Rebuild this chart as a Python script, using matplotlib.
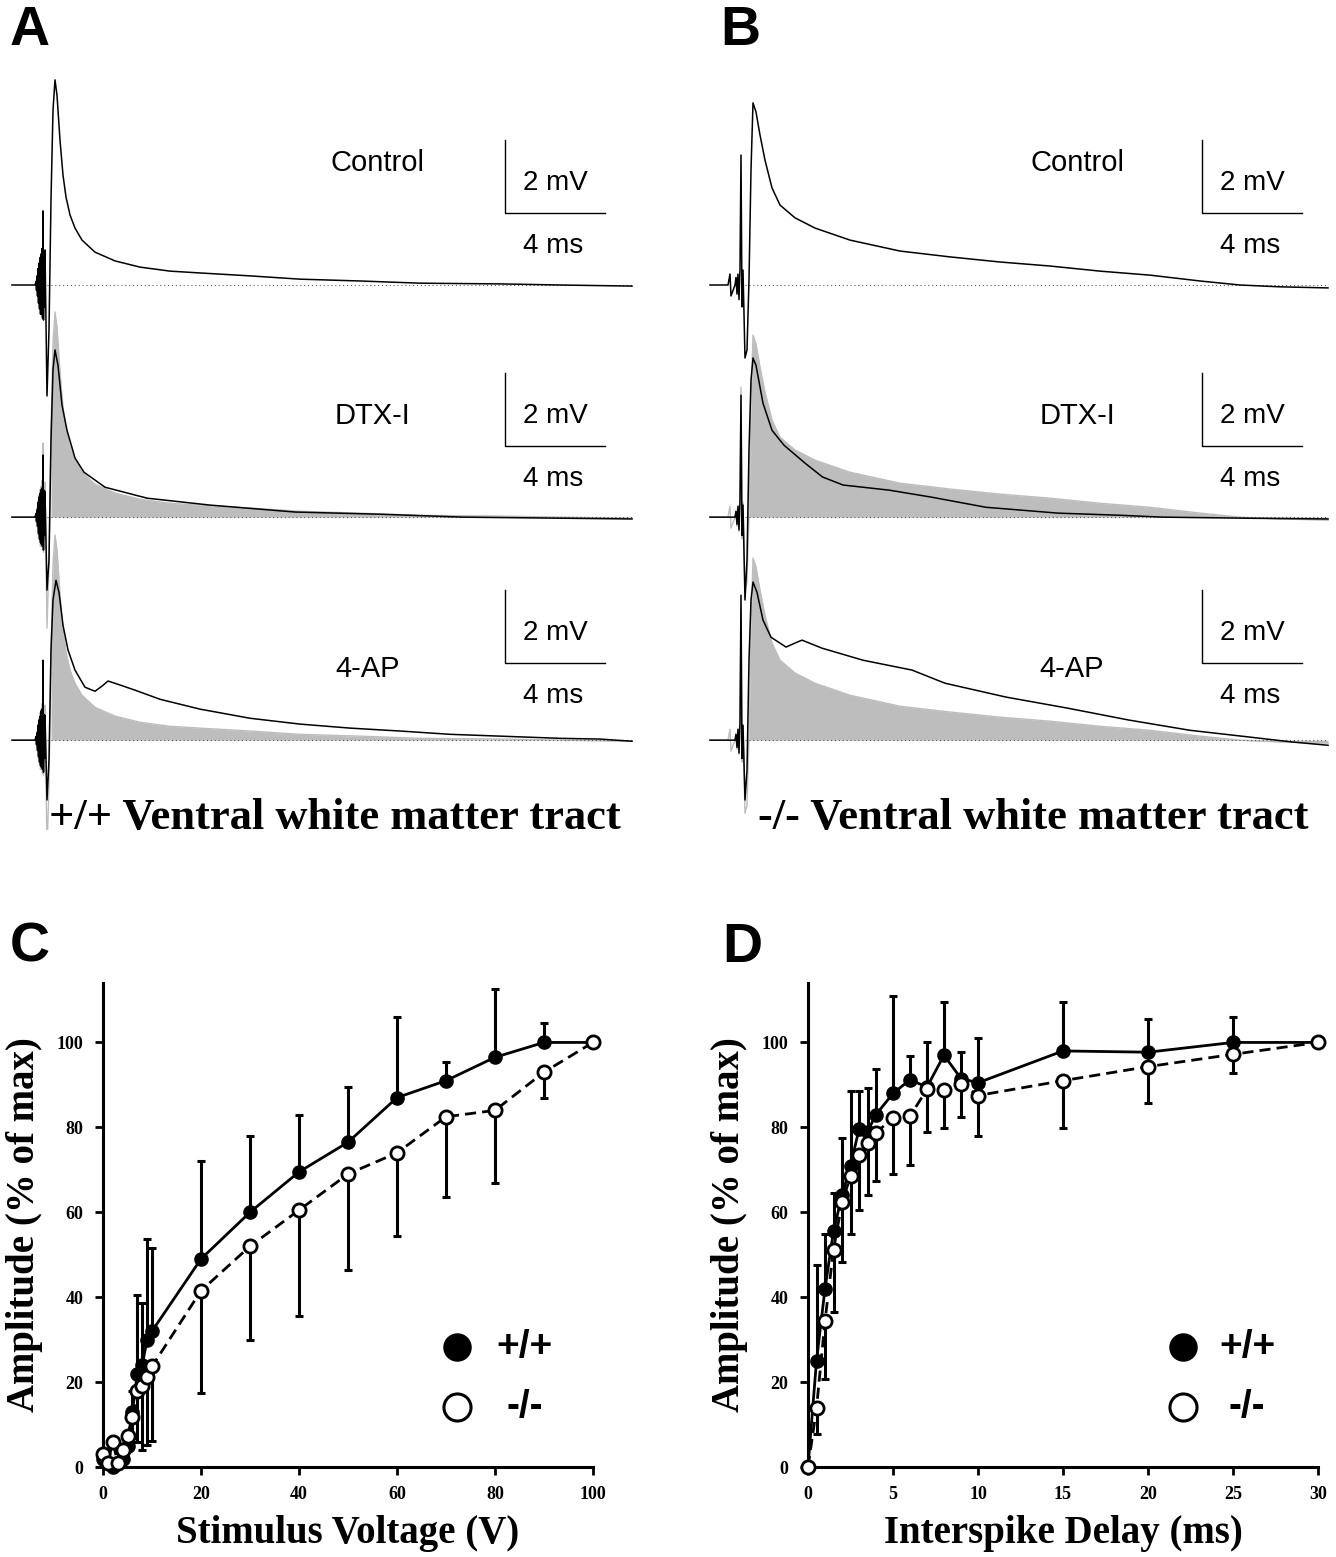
import matplotlib
matplotlib.use('Agg')
import matplotlib.pyplot as plt
import numpy as np

plt.rcParams['font.family'] = ['Liberation Sans', 'DejaVu Sans']
SERIF = 'Liberation Serif'
SANS = 'Liberation Sans'

# ---------------- data: field potentials (time in ms, voltage in mV) ----------------
a_ctrl_t = [0, 0.92, 0.96, 0.98, 1.0, 1.02, 1.04, 1.06, 1.08, 1.1, 1.12, 1.14, 1.16, 1.18, 1.2,
            1.22, 1.24, 1.26, 1.28, 1.3, 1.32, 1.4, 1.48, 1.56, 1.64,
            1.72, 1.8, 1.92, 2.04, 2.16, 2.32, 2.52, 2.8, 3.32, 4.12, 5.12, 6.32, 7.52, 9.52,
            11.52, 13.92, 16.32, 19.52, 21.92, 24.8]
a_ctrl_v = [0, 0, 0.1, -0.15, 0.25, -0.3, 0.45, -0.5, 0.6, -0.65, 0.75, -0.8, 0.85, -0.8, 1.0,
            -0.9, 2.03, -0.96, 0.9, -0.6, 0.96, -3.04, -1.23, 2.33,
            4.79, 5.62, 5.2, 3.97, 3.01, 2.41, 1.92, 1.56, 1.23, 0.9, 0.66, 0.49, 0.38, 0.33,
            0.25, 0.16, 0.11, 0.05, 0.03, 0.0, -0.03]

a_dtx_t = [0, 0.92, 0.96, 0.98, 1.0, 1.02, 1.04, 1.06, 1.08, 1.1, 1.12, 1.14, 1.16, 1.18, 1.2,
           1.22, 1.24, 1.26, 1.28, 1.3, 1.32, 1.4, 1.48, 1.56, 1.64,
           1.72, 1.84, 2.0, 2.2, 2.52, 2.88, 3.72, 5.4, 7.92, 11.32, 14.72, 18.04, 24.8]
a_dtx_v = [0, 0, 0.1, -0.12, 0.2, -0.25, 0.4, -0.45, 0.55, -0.6, 0.65, -0.7, 0.75, -0.75, 0.8,
           -0.8, 1.7, -0.9, 0.74, -0.5, 0.7, -2.0, -1.18, 2.11,
           4.03, 4.58, 4.16, 3.07, 2.38, 1.62, 1.23, 0.82, 0.52, 0.33, 0.14, 0.08, 0.0, -0.05]

a_4ap_t = [0, 0.92, 0.96, 0.98, 1.0, 1.02, 1.04, 1.06, 1.08, 1.1, 1.12, 1.14, 1.16, 1.18, 1.2,
           1.22, 1.24, 1.26, 1.28, 1.3, 1.32, 1.4, 1.48, 1.56, 1.64,
           1.76, 1.88, 2.04, 2.24, 2.52, 2.92, 3.32, 3.6, 3.84, 4.24, 4.92, 5.92, 7.52, 9.52,
           11.52, 13.52, 15.52, 17.52, 19.52, 21.92, 23.52, 24.8]
a_4ap_v = [0, 0, 0.1, -0.12, 0.2, -0.28, 0.4, -0.45, 0.55, -0.6, 0.65, -0.7, 0.8, -0.75, 0.85,
           -0.8, 2.19, -0.88, 0.7, -0.5, 0.68, -1.64, -0.55, 2.47,
           3.84, 4.38, 4.05, 3.15, 2.47, 1.92, 1.45, 1.34, 1.48, 1.62, 1.53, 1.37, 1.12, 0.85,
           0.6, 0.44, 0.33, 0.25, 0.16, 0.11, 0.05, 0.03, -0.03]

b_ctrl_t = [0, 0.72, 0.8, 0.84, 1.0, 1.04, 1.08, 1.12, 1.16, 1.2, 1.24, 1.28, 1.32, 1.4, 1.48,
            1.56, 1.64, 1.72, 1.84, 2.0, 2.2, 2.48, 2.8, 3.4, 4.2, 5.6, 7.6, 9.6, 11.6, 13.6,
            15.6, 17.6, 19.6, 21.2, 22.8, 24.72]
b_ctrl_v = [0, 0, 0.3, -0.3, 0, 0.2, -0.25, 0.3, -0.4, 0.45, 3.56, -0.6, 0.41, -2.0, -1.78,
            0.14, 3.15, 4.99, 4.74, 4.11, 3.42, 2.66, 2.19, 1.84, 1.56, 1.23, 0.93, 0.77, 0.63,
            0.52, 0.38, 0.27, 0.11, 0.0, -0.05, -0.08]

b_dtx_t = [0, 1.0, 1.04, 1.08, 1.12, 1.16, 1.2, 1.24, 1.28, 1.32, 1.4, 1.48, 1.56, 1.64, 1.72,
           1.84, 2.12, 2.48, 2.96, 3.8, 4.5, 5.32, 7.16, 8.84, 11.04, 13.92, 16.44, 18.12,
           21.48, 24.72]
b_dtx_v = [0, 0, 0.15, -0.2, 0.3, -0.35, 0.47, 3.34, -0.5, 0.33, -2.27, -1.18, 1.84, 3.75,
           4.36, 4.16, 3.12, 2.38, 1.97, 1.48, 1.1, 0.88, 0.74, 0.55, 0.27, 0.11, 0.05, 0.0,
           -0.03, -0.05]

b_4ap_t = [0, 1.0, 1.04, 1.08, 1.12, 1.16, 1.2, 1.24, 1.28, 1.32, 1.4, 1.48, 1.56, 1.64, 1.72,
           1.88, 2.12, 2.44, 3.04, 3.4, 3.68, 4.08, 4.48, 6.12, 8.08, 9.4, 11.84, 14.28, 16.76,
           19.2, 21.64, 23.28, 24.72]
b_4ap_v = [0, 0, 0.15, -0.2, 0.3, -0.35, 0.49, 3.97, -0.5, 0.41, -1.64, -0.82, 2.19, 3.84,
           4.33, 4.05, 3.29, 2.82, 2.55, 2.66, 2.74, 2.63, 2.52, 2.19, 1.92, 1.56, 1.18, 0.88,
           0.55, 0.27, 0.08, -0.05, -0.14]

row_names = ['Control', 'DTX-I', '4-AP']

# ---------------- data: panel C ----------------
volt = [0, 1, 2, 3, 4, 5, 6, 7, 8, 9, 10, 20, 30, 40, 50, 60, 70, 80, 90, 100]
wt_c = [2, 1, 0, 1, 2, 5, 13, 22, 24, 30, 32, 49, 60, 69.5, 76.5, 87, 91, 96.5, 100, 100]
wt_c_sd = [0, 0, 0, 0, 0, 0, 5, 18.6, 14.7, 23.6, 19.6, 23, 18, 13.5, 13, 19, 4.5, 16, 4.5, 0]
ko_c = [3, 1, 6, 1, 4, 7.4, 11.8, 17.8, 19, 21.1, 23.7, 41.5, 52, 60.5, 69, 74, 82.5, 84, 93, 100]
ko_c_sd = [0, 0, 0, 0, 0, 2, 5, 12, 15, 16, 17.5, 24, 22, 25, 22.5, 19.5, 19, 17, 6, 0]

# ---------------- data: panel D ----------------
delay = [0, 0.5, 1, 1.5, 2, 2.5, 3, 3.5, 4, 5, 6, 7, 8, 9, 10, 15, 20, 25, 30]
wt_d = [0, 25, 42, 55.5, 64, 71, 79.5, 79, 83, 88, 91.2, 89.5, 97, 91.5, 90.5, 98, 97.7, 100, 100]
wt_d_sd = [0, 22.6, 12.9, 9, 13.6, 17.6, 9.1, 10.2, 10.7, 22.9, 5.7, 10.7, 12.5, 6.2, 10.5,
           11.5, 7.8, 5.9, 0]
ko_d = [0, 13.8, 34.4, 51.2, 62.3, 68.5, 73.5, 76.3, 78.7, 82.3, 82.6, 89, 88.8, 90.2, 87.5,
        91, 94.3, 97.2, 100]
ko_d_sd = [0, 6, 13.7, 14.6, 14.1, 13.6, 12.9, 12.2, 11.3, 13.3, 11.5, 10, 9, 7.7, 9.5, 11.2,
           8.6, 4.4, 0]

W, H = 1336, 1557


def px_box(x0, y0, x1, y1):
    return [x0 / W, 1 - y1 / H, (x1 - x0) / W, (y1 - y0) / H]


fig = plt.figure(figsize=(W / 100, H / 100), dpi=100)

# layout of the trace panels (mV offsets of each row, scale bar bottoms, label spots)
row_base = [0.0, -6.36, -12.47]
bar_low = [1.97, 1.95, 2.11]
grey = '#bdbdbd'


def draw_traces(ax, traces, label_pos, bar_t):
    ctrl_t, ctrl_v = np.array(traces[0][0]), np.array(traces[0][1])
    for i, (t, v) in enumerate(traces):
        base = row_base[i]
        t = np.array(t)
        v = np.array(v)
        if i > 0:
            keep = ctrl_t >= 1.52
            ax.fill_between(ctrl_t[keep], base, base + ctrl_v[keep], color=grey, lw=0, zorder=1)
            ax.plot(ctrl_t, base + ctrl_v, color=grey, lw=1.0, zorder=1)
        ax.plot([1.4, t[-1]], [base, base], color='0.35', lw=0.8, ls=(0, (1, 2.5)), zorder=2)
        ax.plot(t, base + v, color='k', lw=1.1, zorder=3)
        # scale bar
        b = base + bar_low[i]
        ax.plot([bar_t, bar_t, bar_t + 4], [b + 2, b, b], color='k', lw=1.0)
        ax.text(bar_t + 2.0, b + 0.82, '2 mV', fontsize=20, ha='center', va='center', family=SANS)
        ax.text(bar_t + 1.92, b - 0.9, '4 ms', fontsize=20, ha='center', va='center', family=SANS)
        lx, ly = label_pos[i]
        ax.text(lx, base + ly, row_names[i], fontsize=21, ha='center', va='center', family=SANS)


axA = fig.add_axes(px_box(0, 40, 660, 830))
axA.set_xlim(-12 / 25, 648 / 25)
axA.set_ylim((285 - 830) / 36.5, (285 - 40) / 36.5)
axA.axis('off')
draw_traces(axA, [(a_ctrl_t, a_ctrl_v), (a_dtx_t, a_dtx_v), (a_4ap_t, a_4ap_v)],
            [(14.64, 3.34), (14.44, 2.77), (14.24, 1.95)], 19.72)

axB = fig.add_axes(px_box(700, 40, 1336, 830))
axB.set_xlim(-10 / 25, 626 / 25)
axB.set_ylim((285 - 830) / 36.5, (285 - 40) / 36.5)
axB.axis('off')
draw_traces(axB, [(b_ctrl_t, b_ctrl_v), (b_dtx_t, b_dtx_v), (b_4ap_t, b_4ap_v)],
            [(14.72, 3.34), (14.68, 2.77), (14.48, 1.95)], 19.68)

fig.text(335 / W, 1 - 818 / H, '+/+ Ventral white matter tract', fontsize=32,
         fontweight='bold', family=SERIF, ha='center', va='center')
fig.text(1033 / W, 1 - 818 / H, '-/- Ventral white matter tract', fontsize=32,
         fontweight='bold', family=SERIF, ha='center', va='center')


def draw_curve(ax, x, wt, wt_sd, ko, ko_sd, xticks, xlabel, xmax):
    x = np.array(x)
    zeros = np.zeros(len(x))
    ax.errorbar(x, wt, yerr=[zeros, wt_sd], fmt='none', ecolor='k', elinewidth=2.2,
                capsize=2.8, capthick=2.2, zorder=2, clip_on=False)
    ax.errorbar(x, ko, yerr=[ko_sd, zeros], fmt='none', ecolor='k', elinewidth=2.2,
                capsize=2.8, capthick=2.2, zorder=2, clip_on=False)
    ax.plot(x, wt, color='k', lw=2.0, marker='o', ms=9.5, mfc='k', mec='k',
            zorder=3, clip_on=False)
    ax.plot(x, ko, color='k', lw=2.0, ls=(0, (4, 2.2)), marker='o', ms=9.5,
            mfc='white', mec='k', mew=2.0, zorder=4, clip_on=False)
    ax.set_xlim(0, xmax)
    ax.set_ylim(0, 114)
    for s in ['top', 'right']:
        ax.spines[s].set_visible(False)
    for s in ['left', 'bottom']:
        ax.spines[s].set_linewidth(2.2)
    ax.spines['bottom'].set_bounds(-xmax * 0.012, xmax)
    ax.tick_params(direction='out', length=6, width=2, pad=8)
    ax.set_xticks(xticks)
    ax.set_xticklabels([str(v) for v in xticks], fontsize=13, fontweight='bold', family=SERIF)
    yt = [0, 20, 40, 60, 80, 100]
    ax.set_yticks(yt)
    ax.set_yticklabels([str(v) for v in yt], fontsize=13, fontweight='bold', family=SERIF)
    ax.set_xlabel(xlabel, fontsize=28, fontweight='bold', family=SERIF, labelpad=8)
    ax.set_ylabel('Amplitude (% of max)', fontsize=28, fontweight='bold', family=SERIF,
                  labelpad=10)


axC = fig.add_axes(px_box(103, 983, 593, 1467))
draw_curve(axC, volt, wt_c, wt_c_sd, ko_c, ko_c_sd, [0, 20, 40, 60, 80, 100],
           'Stimulus Voltage (V)', 100)
axD = fig.add_axes(px_box(808, 983, 1318, 1467))
draw_curve(axD, delay, wt_d, wt_d_sd, ko_d, ko_d_sd, [0, 5, 10, 15, 20, 25, 30],
           'Interspike Delay (ms)', 30)

for ax, mx, tx in [(axC, 0.722, 0.861), (axD, 0.735, 0.861)]:
    ax.plot([mx], [0.247], 'o', ms=19.5, mfc='k', mec='k', transform=ax.transAxes, clip_on=False)
    ax.plot([mx], [0.124], 'o', ms=19.5, mfc='white', mec='k', mew=2.2,
            transform=ax.transAxes, clip_on=False)
    ax.text(tx, 0.247, '+/+', fontsize=28, fontweight='bold', family=SANS,
            ha='center', va='center', transform=ax.transAxes)
    ax.text(tx, 0.124, '-/-', fontsize=28, fontweight='bold', family=SANS,
            ha='center', va='center', transform=ax.transAxes)

for letter, x, y in [('A', 10, 31), ('B', 720, 31), ('C', 10, 948), ('D', 722, 948)]:
    fig.text(x / W, 1 - y / H, letter, fontsize=40, fontweight='bold', family=SANS,
             ha='left', va='center')

fig.savefig('out.png', dpi=100)
